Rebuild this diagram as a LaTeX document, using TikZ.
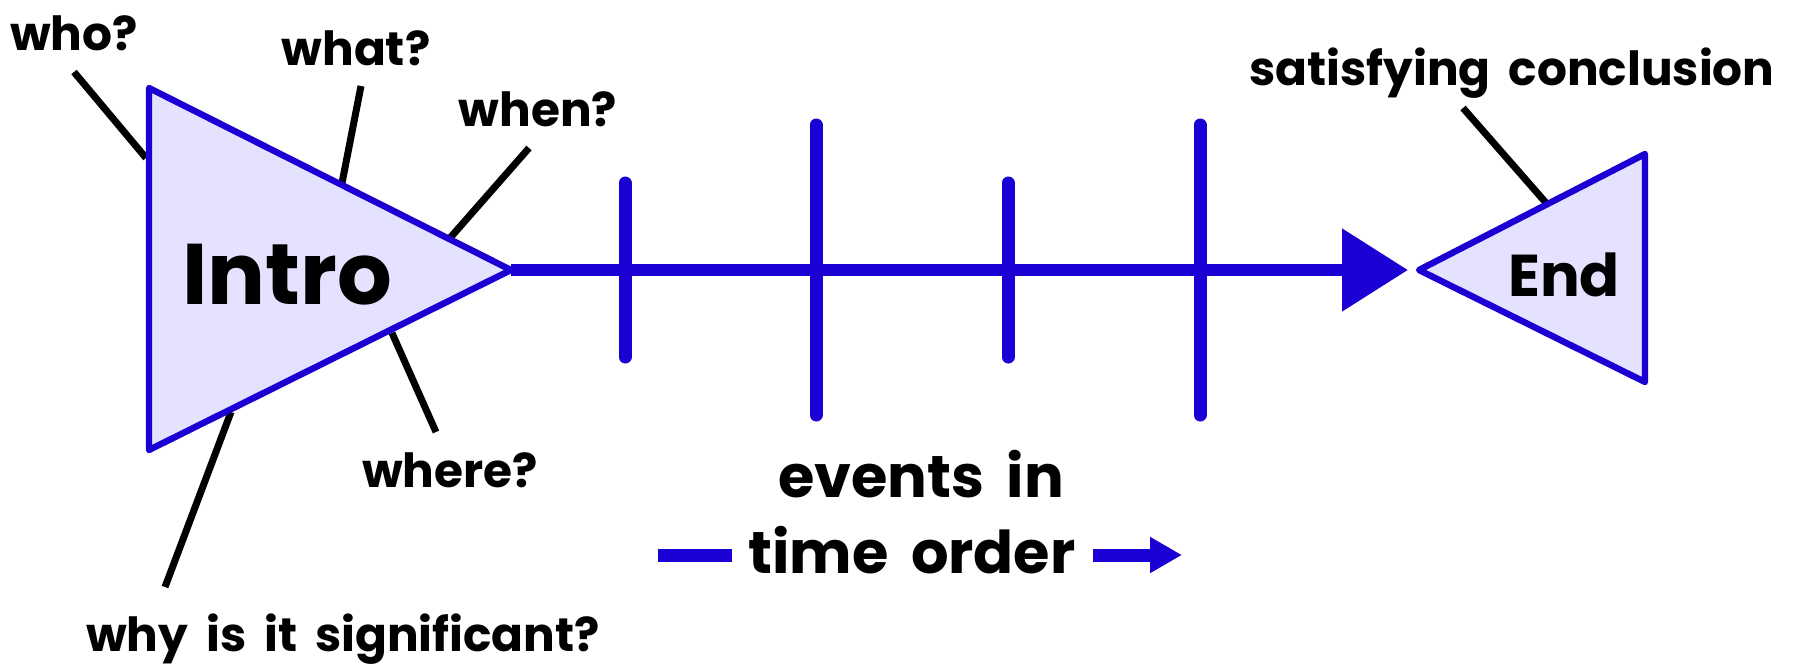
\documentclass[tikz,border=0pt]{standalone}
\usepackage{fontspec}
\setmainfont{Poppins}[WordSpace=1.8]
\usetikzlibrary{arrows.meta}
\definecolor{fishblue}{RGB}{27,0,212}
\definecolor{fishfill}{RGB}{228,226,255}

\begin{document}
\begin{tikzpicture}[x=.5pt,y=-.5pt,
tri/.style={draw=fishblue,line width=3.2pt,fill=fishfill,line join=round},
spine/.style={draw=fishblue,line width=6pt},
tick/.style={draw=fishblue,line width=6.5pt,line cap=round},
bone/.style={draw=black,line width=3.5pt},
timebar/.style={draw=fishblue,line width=6.5pt},
lbl/.style={font=\fontsize{23.5}{27}\selectfont\bfseries,anchor=base,inner sep=0pt},
big/.style={font=\fontsize{43}{48}\selectfont\bfseries,anchor=base,inner sep=0pt},
mid/.style={font=\fontsize{29.5}{34}\selectfont\bfseries,anchor=base,inner sep=0pt}]
\useasboundingbox(0,0)rectangle(1794,670);

% bones (drawn first, triangles cover their ends)
\foreach \nm/\ax/\ay/\bx/\by in {who/74/72/146/158,what/361/86/342/183,when/529/148/450/238,
 where/436/432/392/333,why/165/587/231/412,concl/1463/108/1547/204}{
 \coordinate(\nm1)at(\ax,\ay);
 \coordinate(\nm2)at(\bx,\by);
 \draw[bone](\nm1)--(\nm2);
}

% intro and end triangles
\coordinate(itop)at(149,88);
\coordinate(ibot)at(149,450);
\coordinate(itip)at(511,270);
\draw[tri](itop)--(itip)--(ibot)--cycle;
\coordinate(etop)at(1645,154);
\coordinate(ebot)at(1645,382);
\coordinate(etip)at(1419,270);
\draw[tri](etop)--(etip)--(ebot)--cycle;

% spine with event ticks
\coordinate(ahead)at(1408,270);
\draw[spine,-{Triangle[length=33pt,width=40pt]}](itip)--(ahead);
\foreach \xx/\hh in {625/87,816/145,1008/87,1200/145}{
 \draw[tick](\xx,270-\hh)--(\xx,270+\hh);
}

\node[big](intro)at(287,304){Intro};
\node[mid](end)at(1564,296){End};
\node[lbl](who)at(74,50){who?};
\node[lbl](what)at(356,65){what?};
\node[lbl](when)at(538,126){when?};
\node[lbl](where)at(450,487){where?};
\node[lbl](why)at(343,651){why is it significant?};
\node[lbl](concl)at(1512,85){satisfying conclusion};
\node[mid](events)at(921,497){events in};
\node[mid](timeorder)at(912,573){time order};

% time order arrow
\coordinate(tl1)at(658,555);
\coordinate(tl2)at(732,555);
\coordinate(tr1)at(1093,555);
\coordinate(tr2)at(1182,555);
\draw[timebar](tl1)--(tl2);
\draw[timebar,-{Triangle[length=16pt,width=17pt]}](tr1)--(tr2);
\end{tikzpicture}
\end{document}
